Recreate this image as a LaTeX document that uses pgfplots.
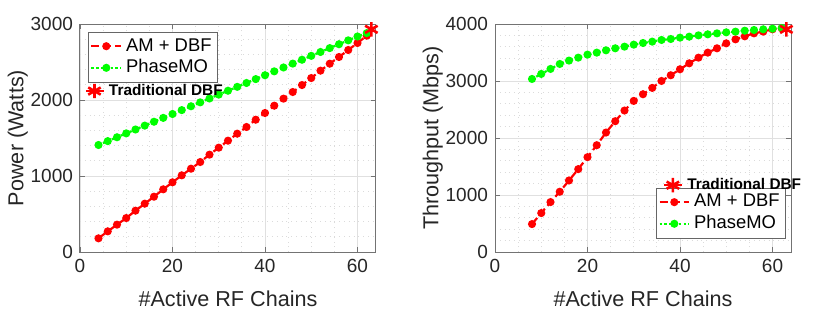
\documentclass[border=0pt]{standalone}
\usepackage{fontspec}
\setmainfont{Liberation Sans}
\usepackage{pgfplots}
\pgfplotsset{compat=1.18}
\definecolor{mgreen}{rgb}{0,1,0}
\definecolor{axgray}{rgb}{0.15,0.15,0.15}
\pgfplotsset{
  mystyle/.style={
    scale only axis, width=148pt, height=114pt,
    xmin=0, xmax=64, xtick={0,20,40,60},
    minor x tick num=3, minor y tick num=4,
    grid=both,
    major grid style={draw=black!12, line width=0.4pt},
    minor grid style={draw=black!14, dotted, line width=0.4pt},
    axis line style={draw=black!55, line width=0.5pt},
    tick style={draw=black!55},
    major tick length=2.5pt, minor tick length=0pt,
    tick align=inside,
    /pgf/number format/assume math mode=true,
    /pgf/number format/1000 sep={},
    ticklabel style={font=\fontsize{9.5}{11}\selectfont, text=axgray},
    label style={font=\fontsize{10.8}{12}\selectfont, text=axgray},
    ylabel shift=-5.5pt, xlabel shift=2.5pt,
    xlabel={\#Active RF Chains},
    legend style={font=\fontsize{9.2}{11}\selectfont, draw=black!60, line width=0.4pt,
      inner sep=1pt, row sep=-1.2pt},
    legend cell align=left,
    legend image code/.code={
      \draw[mark repeat=2, mark phase=2] plot coordinates {(0cm,0cm) (0.26cm,0cm) (0.52cm,0cm)};
    },
  },
  redline/.style={red, line width=1.1pt, dash pattern=on 4pt off 2pt, mark=*, mark size=1.45pt, mark options={solid}},
  greenline/.style={mgreen, line width=1.1pt, dash pattern=on 1.2pt off 1.2pt, mark=*, mark size=1.45pt, mark options={solid}},
  starmark/.style={red, only marks, mark=asterisk, mark size=3.6pt, line width=1.3pt},
  annot/.style={scale only axis, width=148pt, height=114pt, anchor=south west,
    hide axis, xmin=0, xmax=1, ymin=0, ymax=1,
    legend image code/.code={\path (-4.2pt,0pt) -- (4.6pt,0pt); \draw[##1] plot coordinates {(0pt,0pt)};}},
}
\begin{document}
\begin{tikzpicture}
\path[use as bounding box] (0,0) rectangle (415pt,156pt);
% ---------- left ----------
\begin{axis}[mystyle, at={(40pt,30pt)}, anchor=south west,
  ymin=0, ymax=3000, ytick={0,1000,2000,3000},
  ylabel={Power (Watts)},
  legend style={at={(0.027,0.965)}, anchor=north west}]
\addplot[redline] coordinates {
(4,180)(6,272)(8,360)(10,447)(12,544)(14,636)(16,728)(18,825)(20,917)(22,1009)
(24,1096)(26,1184)(28,1281)(30,1373)(32,1465)(34,1557)(36,1645)(38,1741)(40,1829)
(42,1925)(44,2018)(46,2105)(48,2197)(50,2289)(52,2386)(54,2478)(56,2566)(58,2658)
(60,2750)(62,2846)};
\addlegendentry{AM + DBF}
\addplot[greenline] coordinates {
(4,1408)(6,1459)(8,1510)(10,1561)(12,1612)(14,1663)(16,1714)(18,1765)(20,1816)
(22,1867)(24,1918)(26,1969)(28,2020)(30,2071)(32,2122)(34,2173)(36,2224)(38,2275)
(40,2326)(42,2377)(44,2428)(46,2479)(48,2530)(50,2581)(52,2632)(54,2683)(56,2734)
(58,2785)(60,2836)(62,2880)};
\addlegendentry{PhaseMO}
\addplot[starmark] coordinates {(63,2930)};
\end{axis}
\begin{axis}[annot, at={(40pt,30pt)},
  legend style={at={(0.008,0.706)}, anchor=west, draw=none, fill=none,
    font=\fontsize{7.7}{9}\bfseries, inner sep=1pt}]
\addlegendimage{starmark}
\addlegendentry{Traditional DBF}
\end{axis}
% ---------- right ----------
\begin{axis}[mystyle, at={(247.5pt,30pt)}, anchor=south west,
  ymin=0, ymax=4000, ytick={0,1000,2000,3000,4000},
  ylabel={Throughput (Mbps)},
  legend style={at={(0.983,0.06)}, anchor=south east}]
\addplot[redline] coordinates {
(8,490)(10,683)(12,876)(14,1057)(16,1255)(18,1454)(20,1664)(22,1874)(24,2096)
(26,2295)(28,2482)(30,2651)(32,2768)(34,2879)(36,3001)(38,3101)(40,3206)(42,3311)
(44,3410)(46,3498)(48,3574)(50,3661)(52,3731)(54,3784)(56,3836)(58,3866)(60,3907)
(62,3924)};
\addlegendentry{AM + DBF}
\addplot[greenline] coordinates {
(8,3036)(10,3124)(12,3212)(14,3299)(16,3358)(18,3410)(20,3463)(22,3498)(24,3539)
(26,3574)(28,3603)(30,3638)(32,3667)(34,3691)(36,3720)(38,3737)(40,3761)(42,3778)
(44,3801)(46,3819)(48,3836)(50,3854)(52,3866)(54,3883)(56,3895)(58,3907)(60,3918)
(62,3930)};
\addlegendentry{PhaseMO}
\addplot[starmark] coordinates {(63,3906)};
\end{axis}
\begin{axis}[annot, at={(247.5pt,30pt)},
  legend style={at={(0.56,0.293)}, anchor=west, draw=none, fill=none,
    font=\fontsize{7.7}{9}\bfseries, inner sep=1pt}]
\addlegendimage{starmark}
\addlegendentry{Traditional DBF}
\end{axis}
\end{tikzpicture}
\end{document}
